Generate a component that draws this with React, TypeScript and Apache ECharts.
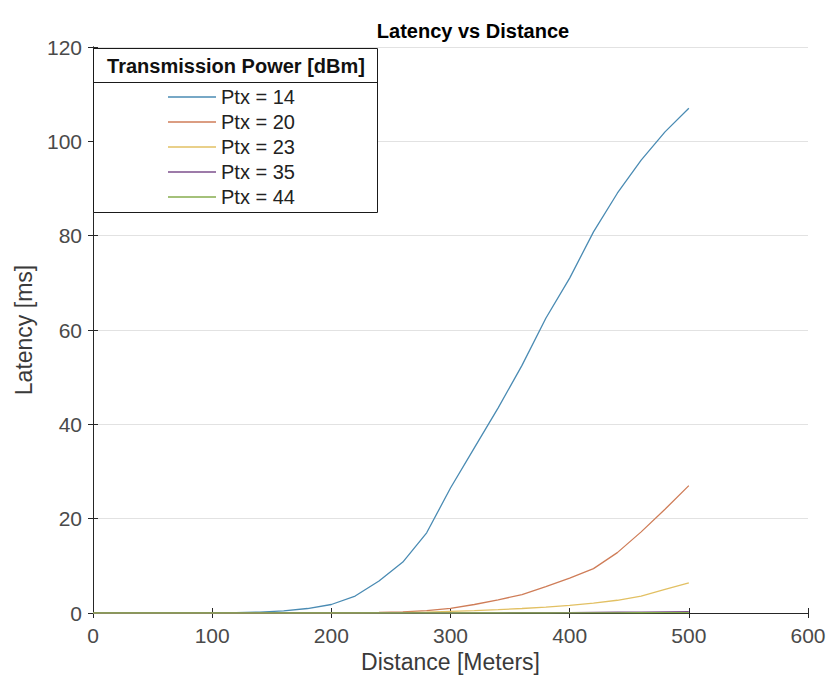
import React, { useEffect, useRef } from "react";
import * as echarts from "echarts";

const distances = [0, 20, 40, 60, 80, 100, 120, 140, 160, 180, 200, 220, 240, 260, 280, 300, 320, 340, 360, 380, 400, 420, 440, 460, 480, 500];
const ptx14 = [0, 0, 0, 0, 0.02, 0.05, 0.1, 0.2, 0.45, 0.95, 1.8, 3.6, 6.8, 10.8, 17, 26.5, 35, 43.5, 52.5, 62.5, 71, 80.8, 89, 96, 102, 107];
const ptx20 = [0, 0, 0, 0, 0, 0, 0, 0, 0, 0.02, 0.05, 0.1, 0.15, 0.25, 0.5, 1.0, 1.8, 2.8, 3.9, 5.6, 7.4, 9.4, 12.8, 17.2, 22, 27];
const ptx23 = [0, 0, 0, 0, 0, 0, 0, 0, 0, 0, 0, 0, 0.05, 0.1, 0.2, 0.35, 0.5, 0.7, 0.95, 1.25, 1.6, 2.1, 2.7, 3.6, 5.0, 6.4];
const ptx35 = [0, 0, 0, 0, 0, 0, 0, 0, 0, 0, 0, 0, 0, 0, 0, 0, 0.02, 0.04, 0.06, 0.08, 0.1, 0.13, 0.16, 0.2, 0.25, 0.3];
const ptx44 = [0, 0, 0, 0, 0, 0, 0, 0, 0, 0, 0, 0, 0, 0, 0, 0, 0, 0, 0, 0, 0.02, 0.03, 0.04, 0.05, 0.06, 0.08];
const seriesNames = ["Ptx = 14", "Ptx = 20", "Ptx = 23", "Ptx = 35", "Ptx = 44"];
const seriesColors = ["#4a8bb3", "#cf7d58", "#e2c063", "#7d4f8c", "#86ad4e"];
const xTicks = { min: 0, max: 600, interval: 100 };
const yTicks = { min: 0, max: 120, interval: 20 };

const FONT = "'Liberation Sans', Arial, Helvetica, sans-serif";

export default function App() {
  const ref = useRef<HTMLDivElement>(null);
  useEffect(() => {
    if (!ref.current) return;
    const chart = echarts.init(ref.current, null, { renderer: "svg" });
    const all = [ptx14, ptx20, ptx23, ptx35, ptx44];
    const axisLine = { show: true, lineStyle: { color: "#262626", width: 1 } };
    const tick = { show: true, inside: true, length: 5, lineStyle: { color: "#262626" } };
    chart.setOption({
      animation: false,
      backgroundColor: "#ffffff",
      title: {
        text: "Latency vs Distance",
        left: 468,
        top: 16,
        textAlign: "center",
        textStyle: { fontFamily: FONT, fontSize: 20, fontWeight: "bold", color: "#000" },
      },
      grid: { left: 93, right: 24, top: 47, bottom: 69, containLabel: false, outerBoundsMode: "none" },
      xAxis: [
        {
          type: "value",
          ...xTicks,
          name: "Distance [Meters]",
          nameLocation: "middle",
          nameGap: 34,
          nameTextStyle: { fontFamily: FONT, fontSize: 23, color: "#3a3a3a" },
          axisLine,
          axisTick: tick,
          axisLabel: { fontFamily: FONT, fontSize: 21, color: "#4a4a4a", margin: 12 },
          splitLine: { show: false },
        },
        {
          type: "value",
          position: "top",
          ...xTicks,
          axisLine,
          axisTick: tick,
          axisLabel: { show: false },
          splitLine: { show: false },
        },
      ],
      yAxis: [
        {
          type: "value",
          ...yTicks,
          name: "Latency [ms]",
          nameLocation: "middle",
          nameGap: 58,
          nameTextStyle: { fontFamily: FONT, fontSize: 23, color: "#3a3a3a" },
          axisLine,
          axisTick: tick,
          axisLabel: { fontFamily: FONT, fontSize: 21, color: "#4a4a4a", margin: 11 },
          splitLine: { show: true, lineStyle: { color: "#e2e2e2", width: 1 } },
        },
        {
          type: "value",
          position: "right",
          ...yTicks,
          axisLine,
          axisTick: tick,
          axisLabel: { show: false },
          splitLine: { show: false },
        },
      ],
      legend: {
        orient: "vertical",
        left: 168,
        top: 87,
        padding: 0,
        icon: "rect",
        itemWidth: 48,
        itemHeight: 1.5,
        itemGap: 5,
        z: 5,
        textStyle: { fontFamily: FONT, fontSize: 20, color: "#222", lineHeight: 20 },
        data: seriesNames,
      },
      graphic: [
        {
          type: "rect",
          z: 3,
          shape: { x: 93.5, y: 48.5, width: 284, height: 164 },
          style: { fill: "#ffffff", stroke: "#1a1a1a", lineWidth: 1 },
        },
        {
          type: "line",
          z: 3,
          shape: { x1: 93.5, y1: 82.5, x2: 377.5, y2: 82.5 },
          style: { stroke: "#1a1a1a", lineWidth: 1 },
        },
        {
          type: "text",
          z: 4,
          x: 236,
          y: 66,
          style: {
            text: "Transmission Power [dBm]",
            font: `bold 20px ${FONT}`,
            fill: "#111",
            textAlign: "center",
            textVerticalAlign: "middle",
          },
        },
      ],
      series: all.map((vals, i) => ({
        type: "line",
        name: seriesNames[i],
        data: distances.map((d, j) => [d, vals[j]]),
        showSymbol: false,
        symbol: "none",
        color: seriesColors[i],
        lineStyle: { color: seriesColors[i], width: 1.3 },
        z: 2 + i * 0.01,
      })),
    });
    return () => chart.dispose();
  }, []);
  return <div ref={ref} style={{ position: "fixed", left: 0, top: 0, width: 832, height: 682 }} />;
}
